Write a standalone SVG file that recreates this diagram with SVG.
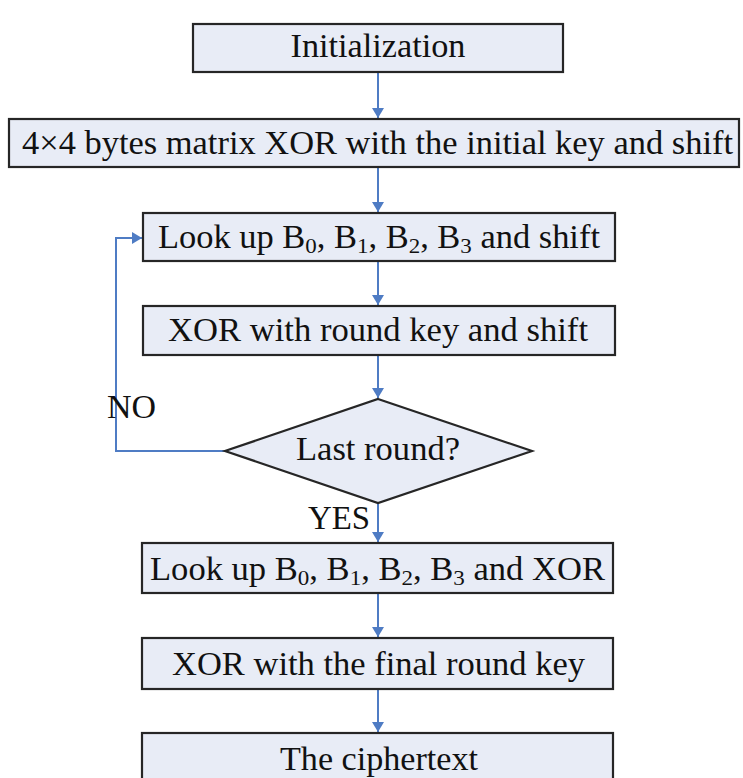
<svg xmlns="http://www.w3.org/2000/svg" width="743" height="778" viewBox="0 0 743 778">
  <style>
    .box { fill: #E8ECF6; stroke: #262626; stroke-width: 2.2; }
    .lbl { font-family: 'Liberation Serif', 'Times New Roman', serif; font-size: 33px; fill: #111; }
    .mid { text-anchor: middle; }
    .sub { font-size: 22px; }
    .wire { fill: none; stroke: #4F7CC4; stroke-width: 2; }
  </style>
  <defs>
    <marker id="arrow" viewBox="0 0 10 12" refX="10" refY="6" markerWidth="10" markerHeight="12" markerUnits="userSpaceOnUse" orient="auto">
      <path d="M0,0 L10,6 L0,12 Z" fill="#4F7CC4"/>
    </marker>
  </defs>
  <rect width="743" height="778" fill="#FFFFFF"/>

  <g id="connectors">
    <line class="wire" x1="378" y1="72" x2="378" y2="118" marker-end="url(#arrow)"/>
    <line class="wire" x1="378" y1="167" x2="378" y2="212" marker-end="url(#arrow)"/>
    <line class="wire" x1="378" y1="261" x2="378" y2="305" marker-end="url(#arrow)"/>
    <line class="wire" x1="378" y1="355" x2="378" y2="398" marker-end="url(#arrow)"/>
    <polyline class="wire" points="225,451 116,451 116,238 142,238" marker-end="url(#arrow)"/>
    <line class="wire" x1="378" y1="503" x2="378" y2="542" marker-end="url(#arrow)"/>
    <line class="wire" x1="378" y1="593" x2="378" y2="637" marker-end="url(#arrow)"/>
    <line class="wire" x1="378" y1="689" x2="378" y2="732" marker-end="url(#arrow)"/>
    <text class="lbl" x="107" y="418" textLength="49" lengthAdjust="spacingAndGlyphs">NO</text>
    <text class="lbl" x="308" y="529" textLength="62" lengthAdjust="spacingAndGlyphs">YES</text>
  </g>

  <g id="init">
    <rect class="box" x="193" y="24" width="370" height="48"/>
    <text class="lbl mid" x="378" y="57" textLength="175" lengthAdjust="spacingAndGlyphs">Initialization</text>
  </g>

  <g id="xor-initial">
    <rect class="box" x="9" y="119" width="730" height="48"/>
    <text class="lbl" x="22" y="154" textLength="711" lengthAdjust="spacingAndGlyphs">4×4 bytes matrix XOR with the initial key and shift</text>
  </g>

  <g id="lookup-shift">
    <rect class="box" x="143" y="213" width="472" height="48"/>
    <text class="lbl" x="158" y="248" textLength="442" lengthAdjust="spacingAndGlyphs">Look up B<tspan class="sub" dy="5">0</tspan><tspan dy="-5">, B</tspan><tspan class="sub" dy="5">1</tspan><tspan dy="-5">, B</tspan><tspan class="sub" dy="5">2</tspan><tspan dy="-5">, B</tspan><tspan class="sub" dy="5">3</tspan><tspan dy="-5"> and shift</tspan></text>
  </g>

  <g id="round-key">
    <rect class="box" x="143" y="306" width="472" height="49"/>
    <text class="lbl" x="168" y="341" textLength="420" lengthAdjust="spacingAndGlyphs">XOR with round key and shift</text>
  </g>

  <g id="last-round">
    <polygon class="box" points="378,399 532,451 378,503 225,451"/>
    <text class="lbl mid" x="378" y="460" textLength="164" lengthAdjust="spacingAndGlyphs">Last round?</text>
  </g>

  <g id="lookup-xor">
    <rect class="box" x="142" y="543" width="471" height="50"/>
    <text class="lbl" x="150" y="580" textLength="455" lengthAdjust="spacingAndGlyphs">Look up B<tspan class="sub" dy="5">0</tspan><tspan dy="-5">, B</tspan><tspan class="sub" dy="5">1</tspan><tspan dy="-5">, B</tspan><tspan class="sub" dy="5">2</tspan><tspan dy="-5">, B</tspan><tspan class="sub" dy="5">3</tspan><tspan dy="-5"> and XOR</tspan></text>
  </g>

  <g id="final-key">
    <rect class="box" x="142" y="638" width="471" height="51"/>
    <text class="lbl" x="172" y="675" textLength="413" lengthAdjust="spacingAndGlyphs">XOR with the final round key</text>
  </g>

  <g id="ciphertext">
    <rect class="box" x="142" y="733" width="471" height="52"/>
    <text class="lbl" x="280" y="770" textLength="198" lengthAdjust="spacingAndGlyphs">The ciphertext</text>
  </g>
</svg>
